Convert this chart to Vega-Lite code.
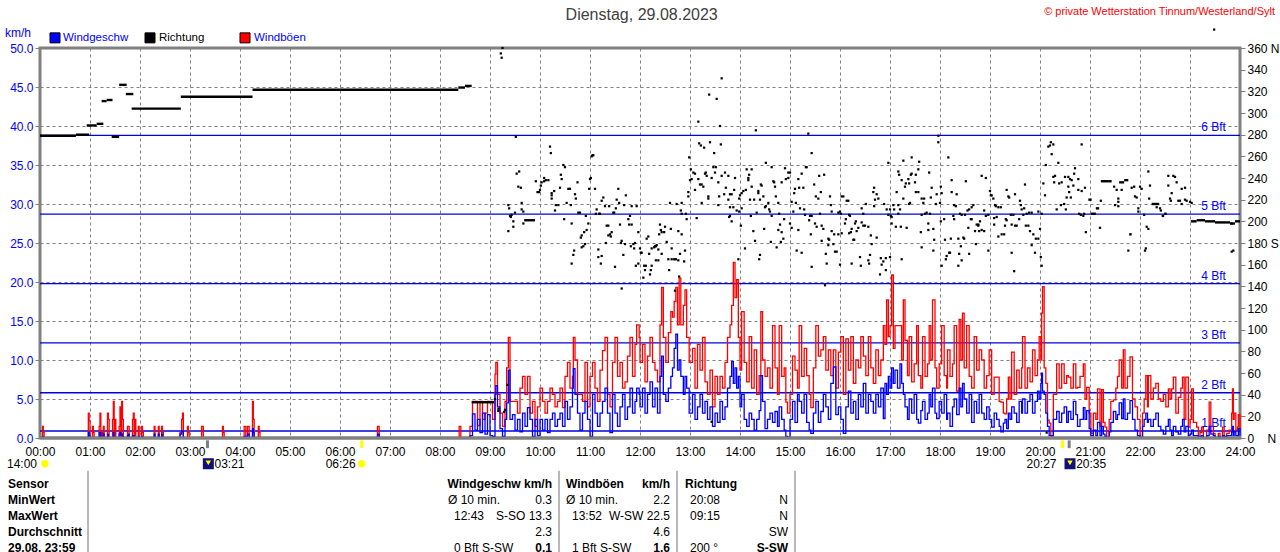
{
"$schema":"https://vega.github.io/schema/vega-lite/v6.json",
"autosize":{"type":"none"},
"padding":{"left":40,"top":48,"right":40,"bottom":114},
"width":1200,"height":390,
"background":"white",
"config":{"view":{"stroke":"#808080","strokeWidth":3},"font":"Liberation Sans","text":{"font":"Liberation Sans","fontSize":12}},
"datasets":{
"wind":[
{"min":0,"w":0,"g":0},{"min":3,"w":0.2,"g":1.5},{"min":4,"w":0,"g":0.7},{"min":5,"w":0,"g":0},{"min":58,"w":0.7,"g":3.2},{"min":59,"w":0.3,"g":2.2},{"min":60,"w":0,"g":0},{"min":63,"w":0,"g":1.5},{"min":64,"w":0,"g":0.7},{"min":65,"w":0,"g":0},{"min":71,"w":0.7,"g":1.5},{"min":72,"w":0.7,"g":3.2},{"min":73,"w":0,"g":0},{"min":74,"w":0,"g":0.7},{"min":75,"w":0,"g":0},{"min":76,"w":0.5,"g":1.5},{"min":77,"w":0,"g":0},{"min":81,"w":0.5,"g":3.2},{"min":82,"w":0,"g":2.4},{"min":83,"w":0,"g":0},{"min":87,"w":0,"g":2.4},{"min":88,"w":0.7,"g":4.7},{"min":89,"w":0,"g":0},{"min":90,"w":0,"g":2.4},{"min":91,"w":0,"g":0},{"min":95,"w":0.5,"g":1.5},{"min":96,"w":0.7,"g":4},{"min":97,"w":0.3,"g":0},{"min":98,"w":0.5,"g":4.7},{"min":99,"w":0.2,"g":2.4},{"min":100,"w":0,"g":0},{"min":105,"w":0.3,"g":1.5},{"min":106,"w":0.5,"g":1.5},{"min":107,"w":0,"g":0},{"min":111,"w":0.3,"g":2.4},{"min":112,"w":0.3,"g":3.2},{"min":113,"w":0,"g":0},{"min":114,"w":0,"g":2.4},{"min":115,"w":0,"g":0},{"min":118,"w":0.2,"g":1.5},{"min":119,"w":0,"g":0},{"min":122,"w":0.2,"g":1.5},{"min":123,"w":0,"g":0.7},{"min":124,"w":0,"g":0},{"min":137,"w":0.5,"g":1.5},{"min":138,"w":0,"g":0},{"min":142,"w":0.5,"g":1.5},{"min":143,"w":0,"g":0},{"min":146,"w":0.5,"g":1.5},{"min":147,"w":0,"g":0.7},{"min":148,"w":0,"g":0},{"min":168,"w":0.5,"g":0.7},{"min":170,"w":0.9,"g":2.4},{"min":171,"w":0.9,"g":3.2},{"min":172,"w":0,"g":0},{"min":177,"w":0,"g":1.5},{"min":178,"w":0,"g":0.7},{"min":179,"w":0,"g":0},{"min":194,"w":0,"g":1.5},{"min":196,"w":0,"g":0},{"min":219,"w":0,"g":1.5},{"min":220,"w":0,"g":0.7},{"min":221,"w":0,"g":0},{"min":245,"w":0.2,"g":1.5},{"min":246,"w":0.2,"g":1.5},{"min":247,"w":0,"g":0},{"min":249,"w":0.5,"g":1.5},{"min":250,"w":0.5,"g":1.5},{"min":251,"w":0,"g":0},{"min":255,"w":1.2,"g":4.7},{"min":256,"w":0.7,"g":2.4},{"min":257,"w":0,"g":0},{"min":262,"w":0,"g":1.5},{"min":263,"w":0,"g":0.7},{"min":264,"w":0,"g":0},{"min":405,"w":0.5,"g":1.5},{"min":407,"w":0,"g":0},{"min":503,"w":0,"g":1.5},{"min":505,"w":0,"g":0},{"min":514,"w":0,"g":0},
{"min":516,"w":0.3,"g":1.5},{"min":519,"w":3.1,"g":4.7},{"min":522,"w":1.0,"g":4.7},{"min":525,"w":2.4,"g":1.6},{"min":528,"w":0.7,"g":4.7},{"min":531,"w":3.2,"g":2.4},{"min":534,"w":0.5,"g":3.2},{"min":537,"w":3.0,"g":4.7},{"min":540,"w":0.3,"g":4.7},{"min":543,"w":0.2,"g":2.4},{"min":546,"w":5.6,"g":8.2},{"min":547,"w":6.7,"g":9.7},{"min":549,"w":4.0,"g":5.6},{"min":552,"w":1.2,"g":3.2},{"min":555,"w":0.2,"g":1.5},{"min":558,"w":2.4,"g":4.7},{"min":560,"w":4.5,"g":9.0},{"min":562,"w":8.7,"g":12.9},{"min":564,"w":2.4,"g":4.7},{"min":567,"w":3.0,"g":4.7},{"min":570,"w":1.0,"g":4.7},{"min":573,"w":2.4,"g":3.2},{"min":576,"w":0.8,"g":6.4},{"min":579,"w":3.2,"g":7.9},{"min":582,"w":1.5,"g":5.6},{"min":585,"w":3.9,"g":7.9},{"min":588,"w":2.4,"g":3.2},{"min":591,"w":0.2,"g":4.7},{"min":594,"w":2.4,"g":1.5},{"min":597,"w":0.3,"g":4.0},{"min":600,"w":2.4,"g":6.4},{"min":603,"w":1.0,"g":4.7},{"min":606,"w":2.4,"g":3.2},{"min":609,"w":0.7,"g":4.7},{"min":612,"w":2.4,"g":6.4},{"min":615,"w":3.2,"g":5.6},{"min":618,"w":1.5,"g":4.0},{"min":621,"w":2.4,"g":4.7},{"min":624,"w":3.2,"g":6.4},{"min":627,"w":1.5,"g":3.9},{"min":630,"w":4.7,"g":7.9},{"min":633,"w":2.4,"g":9.7},{"min":636,"w":4.0,"g":6.4},{"min":639,"w":6.4,"g":7.9},{"min":640,"w":8.9,"g":12.9},{"min":642,"w":5.6,"g":10.0},{"min":645,"w":3.2,"g":5.6},{"min":648,"w":1.0,"g":5.6},{"min":651,"w":3.2,"g":4.7},{"min":654,"w":4.7,"g":9.7},{"min":657,"w":2.4,"g":4.0},{"min":660,"w":0.2,"g":7.9},{"min":663,"w":5.6,"g":9.7},{"min":666,"w":3.2,"g":6.4},{"min":669,"w":1.5,"g":4.7},{"min":672,"w":3.2,"g":8.7},{"min":675,"w":4.7,"g":11.2},{"min":678,"w":6.4,"g":12.9},{"min":681,"w":3.2,"g":5.6},{"min":684,"w":0.7,"g":4.0},{"min":687,"w":5.6,"g":9.7},{"min":690,"w":3.2,"g":12.9},{"min":693,"w":1.5,"g":7.9},{"min":696,"w":4.0,"g":9.7},{"min":699,"w":5.6,"g":6.4},{"min":702,"w":2.4,"g":7.2},{"min":705,"w":4.0,"g":10.5},{"min":708,"w":6.4,"g":12.9},{"min":711,"w":3.2,"g":7.9},{"min":714,"w":4.7,"g":12.0},{"min":716,"w":6.4,"g":14.5},{"min":719,"w":5.6,"g":12.9},
{"min":720,"w":4.0,"g":9.7},{"min":723,"w":6.4,"g":12.0},{"min":726,"w":3.2,"g":7.2},{"min":729,"w":5.6,"g":10.5},{"min":732,"w":7.2,"g":12.9},{"min":735,"w":4.0,"g":9.7},{"min":738,"w":6.4,"g":8.7},{"min":741,"w":3.2,"g":7.2},{"min":744,"w":7.9,"g":14.5},{"min":746,"w":10.5,"g":19.3},{"min":748,"w":5.6,"g":12.9},{"min":751,"w":4.7,"g":9.7},{"min":754,"w":6.4,"g":13.5},{"min":757,"w":7.9,"g":16.2},{"min":759,"w":9.0,"g":15.5},{"min":761,"w":11.5,"g":17.5},{"min":763,"w":13.3,"g":19.3},{"min":765,"w":8.7,"g":14.5},{"min":767,"w":10.0,"g":20.5},{"min":769,"w":7.9,"g":14.5},{"min":772,"w":5.6,"g":17.0},{"min":774,"w":7.9,"g":19.0},{"min":776,"w":6.4,"g":12.9},{"min":779,"w":3.2,"g":9.7},
{"min":780,"w":3.2,"g":9.7},{"min":783,"w":5.6,"g":11.5},{"min":786,"w":2.4,"g":6.4},{"min":789,"w":4.0,"g":12.0},{"min":792,"w":5.6,"g":8.7},{"min":795,"w":3.2,"g":12.9},{"min":798,"w":4.7,"g":7.2},{"min":801,"w":2.4,"g":5.6},{"min":804,"w":4.0,"g":8.7},{"min":807,"w":1.5,"g":4.0},{"min":810,"w":3.2,"g":7.9},{"min":813,"w":2.0,"g":5.6},{"min":816,"w":4.7,"g":7.9},{"min":819,"w":2.4,"g":6.4},{"min":822,"w":4.0,"g":9.7},{"min":825,"w":6.4,"g":12.9},{"min":828,"w":7.9,"g":14.5},{"min":830,"w":9.8,"g":17.0},{"min":832,"w":7.0,"g":22.5},{"min":834,"w":9.0,"g":18.0},{"min":836,"w":6.4,"g":20.3},{"min":838,"w":7.9,"g":12.9},{"min":840,"w":4.0,"g":8.7},{"min":842,"w":5.6,"g":16.2},{"min":845,"w":2.4,"g":9.7},{"min":848,"w":1.5,"g":7.2},{"min":851,"w":3.2,"g":13.0},{"min":854,"w":2.4,"g":6.4},{"min":857,"w":1.0,"g":11.3},{"min":860,"w":2.4,"g":5.6},{"min":863,"w":3.5,"g":8.0},{"min":865,"w":8.0,"g":16.2},{"min":867,"w":4.7,"g":10.0},{"min":870,"w":1.2,"g":7.9},{"min":873,"w":2.4,"g":9.0},{"min":876,"w":3.2,"g":6.4},{"min":879,"w":2.0,"g":14.4},{"min":882,"w":3.4,"g":9.0},{"min":885,"w":1.5,"g":5.6},{"min":887,"w":4.0,"g":14.4},{"min":890,"w":2.4,"g":7.9},{"min":893,"w":1.0,"g":9.0},{"min":895,"w":0.2,"g":4.6},{"min":897,"w":0.1,"g":3.2},{"min":900,"w":2.4,"g":5.6},{"min":903,"w":4.7,"g":10.5},{"min":906,"w":2.0,"g":8.7},{"min":909,"w":5.6,"g":6.4},{"min":911,"w":4.7,"g":14.4},{"min":914,"w":3.2,"g":7.9},{"min":917,"w":5.6,"g":11.5},{"min":920,"w":2.0,"g":8.0},{"min":923,"w":1.0,"g":5.6},{"min":925,"w":0.6,"g":3.9},{"min":928,"w":3.2,"g":9.0},{"min":931,"w":4.7,"g":14.4},{"min":934,"w":2.0,"g":10.5},{"min":937,"w":3.4,"g":11.3},{"min":940,"w":5.6,"g":13.0},{"min":943,"w":4.0,"g":8.7},{"min":946,"w":2.4,"g":11.3},{"min":949,"w":7.0,"g":8.0},{"min":952,"w":9.1,"g":11.3},{"min":955,"w":3.0,"g":6.4},{"min":958,"w":4.0,"g":11.0},{"min":961,"w":2.4,"g":13.0},{"min":964,"w":0.6,"g":5.6},{"min":967,"w":4.0,"g":12.7},{"min":970,"w":6.0,"g":8.7},{"min":973,"w":3.2,"g":13.0},{"min":976,"w":4.7,"g":7.0},{"min":979,"w":2.4,"g":10.0},{"min":982,"w":5.6,"g":9.0},{"min":985,"w":4.0,"g":13.0},{"min":988,"w":7.0,"g":10.5},{"min":991,"w":3.2,"g":8.0},{"min":994,"w":5.6,"g":13.0},{"min":997,"w":4.7,"g":9.0},{"min":1000,"w":3.2,"g":7.0},{"min":1003,"w":5.6,"g":11.3},{"min":1006,"w":4.0,"g":8.0},{"min":1009,"w":6.4,"g":10.0},{"min":1012,"w":2.5,"g":14.4},{"min":1014,"w":7.0,"g":12.0},{"min":1016,"w":5.6,"g":17.7},{"min":1018,"w":7.9,"g":13.0},{"min":1020,"w":6.4,"g":14.4},{"min":1022,"w":9.0,"g":20.9},{"min":1024,"w":7.0,"g":11.5},{"min":1026,"w":8.7,"g":14.4},{"min":1029,"w":6.4,"g":14.4},{"min":1032,"w":9.5,"g":14.4},{"min":1034,"w":7,"g":10.0},{"min":1036,"w":5.6,"g":17.7},{"min":1038,"w":4,"g":12.5},{"min":1041,"w":2.4,"g":8},{"min":1043,"w":5,"g":13},{"min":1046,"w":3.2,"g":7.2},{"min":1049,"w":5.6,"g":9.5},{"min":1052,"w":2.4,"g":14.4},{"min":1054,"w":1.9,"g":8},{"min":1057,"w":3.5,"g":6.4},{"min":1059,"w":4.7,"g":13},{"min":1062,"w":2.4,"g":7.9},{"min":1065,"w":3.2,"g":9.5},{"min":1067,"w":5.6,"g":14.4},{"min":1069,"w":4,"g":10},{"min":1071,"w":6.4,"g":17.7},{"min":1074,"w":3.2,"g":9},{"min":1076,"w":2.5,"g":6.4},{"min":1079,"w":4.7,"g":9.5},{"min":1082,"w":3.2,"g":14.4},{"min":1085,"w":5.6,"g":8},{"min":1088,"w":2.4,"g":6.4},{"min":1089,"w":3.2,"g":11.3},{"min":1092,"w":1.5,"g":7.9},{"min":1095,"w":4,"g":9.5},{"min":1097,"w":5,"g":14.4},{"min":1100,"w":3,"g":6},{"min":1103,"w":6.4,"g":15.2},{"min":1105,"w":4,"g":10},{"min":1107,"w":7,"g":16},{"min":1109,"w":5,"g":9},{"min":1112,"w":3.2,"g":14.4},{"min":1115,"w":5.6,"g":7.9},{"min":1118,"w":2,"g":6.4},{"min":1121,"w":4.7,"g":13},{"min":1124,"w":3.2,"g":8.7},{"min":1127,"w":5.6,"g":11.3},{"min":1130,"w":3.2,"g":10},{"min":1133,"w":2.4,"g":6.4},{"min":1136,"w":4,"g":8},{"min":1139,"w":2.4,"g":11.3},{"min":1142,"w":1.4,"g":5.6},{"min":1145,"w":3.2,"g":7.8},{"min":1148,"w":2.4,"g":7.8},{"min":1151,"w":1.5,"g":4.7},{"min":1153,"w":0.8,"g":4.6},{"min":1156,"w":1.9,"g":3.2},{"min":1158,"w":2.4,"g":3.1},{"min":1160,"w":1.2,"g":5},{"min":1162,"w":3.2,"g":7.8},{"min":1164,"w":2.4,"g":5},{"min":1166,"w":4,"g":11},{"min":1169,"w":3.2,"g":5.6},{"min":1172,"w":2,"g":8.7},{"min":1175,"w":4.7,"g":6.4},{"min":1178,"w":3.2,"g":9},{"min":1179,"w":5,"g":13},{"min":1182,"w":3.2,"g":6.4},{"min":1185,"w":4.7,"g":9},{"min":1188,"w":5.6,"g":7.2},{"min":1191,"w":3.2,"g":11.3},{"min":1194,"w":4.7,"g":8},{"min":1197,"w":6,"g":10},{"min":1199,"w":5,"g":13},{"min":1201,"w":7,"g":10},{"min":1202,"w":8.3,"g":16},{"min":1203,"w":6,"g":19.4},{"min":1205,"w":5.6,"g":9},{"min":1207,"w":3.2,"g":7},{"min":1209,"w":1.5,"g":2.3},{"min":1211,"w":0.3,"g":1.9},{"min":1213,"w":0.3,"g":0.3},{"min":1216,"w":2.4,"g":5.6},{"min":1220,"w":3.4,"g":9.5},{"min":1223,"w":2,"g":6.4},{"min":1226,"w":3.2,"g":9.5},{"min":1229,"w":4,"g":7},{"min":1232,"w":2,"g":8},{"min":1234,"w":3.4,"g":7.8},{"min":1237,"w":2.4,"g":6.4},{"min":1240,"w":4.7,"g":9.5},{"min":1243,"w":3,"g":6.4},{"min":1245,"w":1.5,"g":6.5},{"min":1248,"w":2.4,"g":7.9},{"min":1252,"w":3.9,"g":9.5},{"min":1254,"w":2.4,"g":5},{"min":1256,"w":3.5,"g":6.5},{"min":1259,"w":1.2,"g":3.2},{"min":1261,"w":0.3,"g":0.6},{"min":1264,"w":1,"g":3.2},{"min":1267,"w":0.3,"g":2.4},{"min":1269,"w":2,"g":6.3},{"min":1272,"w":0.3,"g":1.5},{"min":1274,"w":1.5,"g":6.2},{"min":1276,"w":0.5,"g":2},{"min":1278,"w":0.2,"g":1.4},{"min":1280,"w":0,"g":0.1},{"min":1283,"w":0.8,"g":2.4},{"min":1285,"w":2,"g":4.7},{"min":1288,"w":3.4,"g":4.9},{"min":1291,"w":2.4,"g":6.4},{"min":1293,"w":3,"g":7.9},{"min":1295,"w":4.5,"g":10},{"min":1298,"w":2.5,"g":6.4},{"min":1300,"w":5,"g":11.3},{"min":1302,"w":2.4,"g":6.4},{"min":1305,"w":3.2,"g":7.9},{"min":1308,"w":4.8,"g":10.4},{"min":1311,"w":2.4,"g":5},{"min":1314,"w":1,"g":4},{"min":1317,"w":0.3,"g":2.4},{"min":1320,"w":0,"g":0.1},{"min":1323,"w":1.5,"g":3.2},{"min":1325,"w":2.4,"g":5},{"min":1327,"w":3.2,"g":8},{"min":1329,"w":2,"g":4},{"min":1330,"w":2.4,"g":8},{"min":1333,"w":1.5,"g":5},{"min":1336,"w":2.4,"g":6.4},{"min":1339,"w":3.2,"g":7},{"min":1342,"w":1.5,"g":5},{"min":1345,"w":1,"g":4.7},{"min":1348,"w":0.5,"g":5.6},{"min":1351,"w":1.5,"g":4},{"min":1354,"w":2.4,"g":6.3},{"min":1356,"w":1,"g":5},{"min":1358,"w":0.3,"g":6.3},{"min":1360,"w":1.5,"g":7.8},{"min":1363,"w":0.8,"g":3.2},{"min":1366,"w":0.5,"g":5.2},{"min":1369,"w":1.5,"g":6.4},{"min":1371,"w":2.4,"g":7.8},{"min":1373,"w":0.8,"g":2.4},{"min":1375,"w":1.5,"g":7.8},{"min":1378,"w":0.3,"g":1.4},{"min":1380,"w":0.5,"g":2.4},{"min":1382,"w":1,"g":6.3},{"min":1384,"w":0.3,"g":2},{"min":1388,"w":0.3,"g":1.4},{"min":1390,"w":0,"g":0},{"min":1392,"w":0.2,"g":0.7},{"min":1394,"w":0.3,"g":1.4},{"min":1396,"w":0,"g":0},{"min":1400,"w":0.3,"g":1},{"min":1403,"w":1.5,"g":4.6},{"min":1405,"w":0.5,"g":1.5},{"min":1408,"w":0.3,"g":0.6},{"min":1410,"w":0,"g":0},{"min":1414,"w":0.2,"g":0.6},{"min":1416,"w":0,"g":0},{"min":1419,"w":0.3,"g":1.4},{"min":1421,"w":0.2,"g":0},{"min":1424,"w":0.3,"g":0.6},{"min":1427,"w":0.3,"g":1},{"min":1430,"w":0.8,"g":3.2},{"min":1431,"w":1.5,"g":6.3},{"min":1432,"w":0.3,"g":2.4},{"min":1433,"w":0.8,"g":3.2},{"min":1435,"w":0.3,"g":1},{"min":1437,"w":0.3,"g":1.4},{"min":1438,"w":1.2,"g":3},{"min":1440,"w":0.3,"g":1}
],
"segments":[
{"from":0,"to":43,"dir":279},{"from":43,"to":59,"dir":280},{"from":56,"to":68,"dir":288.5},{"from":68,"to":76,"dir":290},{"from":74,"to":80,"dir":311},{"from":80,"to":87,"dir":312},{"from":86,"to":95,"dir":278},{"from":95,"to":104,"dir":326},{"from":103,"to":112,"dir":317.5},{"from":110,"to":169,"dir":304},{"from":169,"to":255,"dir":315},{"from":255,"to":502,"dir":321.5},{"from":502,"to":510,"dir":323.5},{"from":510,"to":518,"dir":325},{"from":518,"to":545,"dir":33},{"from":581,"to":594,"dir":201},{"from":1258,"to":1262,"dir":220},{"from":1261,"to":1267,"dir":207},{"from":1267,"to":1271,"dir":212},{"from":1273,"to":1286,"dir":237},{"from":1295,"to":1301,"dir":236},{"from":1301,"to":1306,"dir":238},{"from":1307,"to":1310,"dir":188},{"from":1334,"to":1343,"dir":216},{"from":1346,"to":1349,"dir":205},{"from":1349,"to":1352,"dir":207},{"from":1381,"to":1388,"dir":200},{"from":1388,"to":1398,"dir":201},{"from":1398,"to":1410,"dir":200},{"from":1410,"to":1428,"dir":199},{"from":1428,"to":1434,"dir":198},{"from":1434,"to":1440,"dir":200}
],
"direction":[
{"min":555,"dir":360},{"min":553,"dir":355},{"min":554,"dir":351},{"min":571,"dir":278},{"min":562,"dir":215},{"min":563,"dir":212},{"min":564,"dir":205},{"min":566,"dir":206},{"min":565,"dir":204},{"min":570,"dir":208},{"min":568,"dir":200},{"min":568,"dir":195},{"min":562,"dir":191},{"min":572,"dir":244},{"min":575,"dir":246},{"min":574,"dir":232},{"min":577,"dir":231},{"min":578,"dir":217},{"min":578,"dir":211},{"min":580,"dir":209},{"min":580,"dir":198},{"min":595,"dir":237},{"min":597,"dir":227},{"min":599,"dir":227},{"min":600,"dir":229},{"min":601,"dir":233},{"min":602,"dir":236},{"min":605,"dir":237},{"min":605,"dir":240},{"min":607,"dir":238},{"min":610,"dir":238},{"min":612,"dir":269},{"min":613,"dir":263},{"min":614,"dir":226},{"min":617,"dir":228},{"min":614,"dir":224},{"min":614,"dir":221},{"min":619,"dir":215},{"min":622,"dir":215},{"min":618,"dir":210},{"min":624,"dir":231},{"min":625,"dir":243},{"min":626,"dir":239},{"min":628,"dir":252},{"min":630,"dir":250},{"min":629,"dir":202},{"min":632,"dir":217},{"min":634,"dir":230},{"min":636,"dir":230},{"min":637,"dir":215},{"min":638,"dir":198},{"min":638,"dir":161},{"min":640,"dir":169},{"min":641,"dir":173},{"min":642,"dir":225},{"min":643,"dir":221},{"min":645,"dir":236},{"min":646,"dir":208},{"min":648,"dir":208},{"min":649,"dir":185},{"min":650,"dir":187},{"min":650,"dir":176},{"min":652,"dir":177},{"min":653,"dir":190},{"min":654,"dir":179},{"min":656,"dir":192},{"min":655,"dir":205},{"min":658,"dir":198},{"min":659,"dir":230},{"min":660,"dir":239},{"min":661,"dir":240},{"min":662,"dir":260},{"min":663,"dir":261},{"min":664,"dir":261},{"min":666,"dir":230},{"min":667,"dir":207},{"min":670,"dir":174},{"min":670,"dir":167},{"min":671,"dir":207},{"min":672,"dir":207},{"min":668,"dir":211},{"min":673,"dir":161},{"min":674,"dir":168},{"min":674,"dir":219},{"min":676,"dir":222},{"min":678,"dir":214},{"min":683,"dir":214},{"min":680,"dir":196},{"min":682,"dir":196},{"min":682,"dir":187},{"min":684,"dir":188},{"min":686,"dir":190},{"min":685,"dir":186},{"min":679,"dir":180},{"min":688,"dir":208},{"min":689,"dir":208},{"min":690,"dir":158},{"min":691,"dir":212},{"min":692,"dir":220},{"min":695,"dir":217},{"min":694,"dir":230},{"min":696,"dir":197},{"min":697,"dir":180},{"min":698,"dir":182},{"min":700,"dir":169},{"min":702,"dir":179},{"min":701,"dir":215},{"min":703,"dir":224},{"min":706,"dir":202},{"min":707,"dir":197},{"min":708,"dir":205},{"min":710,"dir":197},{"min":709,"dir":177},{"min":712,"dir":179},{"min":714,"dir":180},{"min":713,"dir":175},{"min":710,"dir":214},{"min":716,"dir":214},{"min":718,"dir":190},{"min":715,"dir":159},{"min":718,"dir":161},{"min":720,"dir":175},{"min":721,"dir":171},{"min":722,"dir":171},{"min":724,"dir":148},{"min":725,"dir":159},{"min":727,"dir":159},{"min":726,"dir":155},{"min":728,"dir":184},{"min":730,"dir":186},{"min":731,"dir":170},{"min":732,"dir":151},{"min":733,"dir":155},{"min":734,"dir":159},{"min":734,"dir":175},{"min":737,"dir":176},{"min":738,"dir":177},{"min":739,"dir":177},{"min":740,"dir":178},{"min":742,"dir":174},{"min":739,"dir":164},{"min":742,"dir":164},{"min":743,"dir":188},{"min":744,"dir":197},{"min":746,"dir":190},{"min":745,"dir":192},{"min":749,"dir":190},{"min":750,"dir":195},{"min":746,"dir":170},{"min":752,"dir":181},{"min":755,"dir":155},{"min":754,"dir":165},{"min":756,"dir":217},{"min":757,"dir":193},{"min":758,"dir":175},{"min":758,"dir":165},{"min":761,"dir":165},{"min":763,"dir":165},{"min":766,"dir":164},{"min":768,"dir":170},{"min":773,"dir":163},{"min":774,"dir":173},{"min":766,"dir":191},{"min":770,"dir":188},{"min":764,"dir":216},{"min":770,"dir":217},{"min":769,"dir":210},{"min":770,"dir":207},{"min":775,"dir":207},{"min":767,"dir":149},{"min":776,"dir":202},{"min":778,"dir":223},{"min":778,"dir":227},{"min":779,"dir":259},{"min":780,"dir":238},{"min":782,"dir":239},{"min":781,"dir":248},{"min":784,"dir":245},{"min":786,"dir":244},{"min":786,"dir":229},{"min":788,"dir":203},{"min":794,"dir":217},{"min":790,"dir":292},{"min":791,"dir":272},{"min":793,"dir":270},{"min":797,"dir":268},{"min":790,"dir":239},{"min":792,"dir":234},{"min":794,"dir":234},{"min":798,"dir":244},{"min":799,"dir":245},{"min":800,"dir":242},{"min":796,"dir":232},{"min":802,"dir":223},{"min":802,"dir":221},{"min":803,"dir":317},{"min":812,"dir":313},{"min":818,"dir":332},{"min":804,"dir":273},{"min":817,"dir":271},{"min":809,"dir":263},{"min":808,"dir":250},{"min":811,"dir":250},{"min":810,"dir":245},{"min":806,"dir":240},{"min":814,"dir":236},{"min":815,"dir":223},{"min":814,"dir":215},{"min":816,"dir":288},{"min":818,"dir":242},{"min":822,"dir":245},{"min":826,"dir":242},{"min":823,"dir":231},{"min":821,"dir":225},{"min":828,"dir":225},{"min":826,"dir":220},{"min":828,"dir":213},{"min":834,"dir":240},{"min":833,"dir":229},{"min":830,"dir":225},{"min":840,"dir":224},{"min":839,"dir":221},{"min":832,"dir":213},{"min":836,"dir":210},{"min":839,"dir":209},{"min":842,"dir":212},{"min":827,"dir":204},{"min":828,"dir":205},{"min":830,"dir":200},{"min":841,"dir":196},{"min":838,"dir":165},{"min":846,"dir":175},{"min":859,"dir":284},{"min":844,"dir":228},{"min":847,"dir":229},{"min":842,"dir":226},{"min":852,"dir":220},{"min":857,"dir":220},{"min":848,"dir":248},{"min":854,"dir":248},{"min":851,"dir":243},{"min":850,"dir":240},{"min":850,"dir":238},{"min":854,"dir":232},{"min":862,"dir":228},{"min":862,"dir":226},{"min":865,"dir":234},{"min":866,"dir":233},{"min":868,"dir":223},{"min":853,"dir":205},{"min":860,"dir":208},{"min":869,"dir":193},{"min":856,"dir":191},{"min":858,"dir":182},{"min":864,"dir":169},{"min":863,"dir":165},{"min":864,"dir":220},{"min":871,"dir":254},{"min":878,"dir":250},{"min":880,"dir":237},{"min":881,"dir":236},{"min":882,"dir":232},{"min":883,"dir":223},{"min":874,"dir":217},{"min":871,"dir":214},{"min":870,"dir":213},{"min":886,"dir":217},{"min":875,"dir":211},{"min":876,"dir":209},{"min":878,"dir":205},{"min":887,"dir":207},{"min":877,"dir":181},{"min":884,"dir":176},{"min":889,"dir":181},{"min":892,"dir":184},{"min":886,"dir":192},{"min":890,"dir":190},{"min":888,"dir":197},{"min":893,"dir":202},{"min":890,"dir":236},{"min":894,"dir":249},{"min":895,"dir":239},{"min":898,"dir":240},{"min":898,"dir":245},{"min":900,"dir":245},{"min":902,"dir":218},{"min":907,"dir":217},{"min":900,"dir":198},{"min":902,"dir":194},{"min":910,"dir":192},{"min":904,"dir":209},{"min":912,"dir":212},{"min":917,"dir":211},{"min":918,"dir":206},{"min":905,"dir":226},{"min":906,"dir":230},{"min":911,"dir":231},{"min":916,"dir":231},{"min":910,"dir":239},{"min":914,"dir":244},{"min":919,"dir":250},{"min":920,"dir":250},{"min":922,"dir":281},{"min":926,"dir":263},{"min":929,"dir":234},{"min":924,"dir":205},{"min":926,"dir":205},{"min":923,"dir":201},{"min":930,"dir":198},{"min":925,"dir":188},{"min":932,"dir":195},{"min":936,"dir":207},{"min":908,"dir":173},{"min":914,"dir":171},{"min":926,"dir":158},{"min":938,"dir":182},{"min":938,"dir":196},{"min":940,"dir":193},{"min":935,"dir":242},{"min":941,"dir":243},{"min":937,"dir":227},{"min":934,"dir":221},{"min":931,"dir":223},{"min":946,"dir":184},{"min":947,"dir":183},{"min":943,"dir":170},{"min":944,"dir":161},{"min":942,"dir":141},{"min":946,"dir":178},{"min":952,"dir":179},{"min":948,"dir":223},{"min":949,"dir":215},{"min":950,"dir":209},{"min":950,"dir":191},{"min":953,"dir":188},{"min":958,"dir":188},{"min":954,"dir":172},{"min":956,"dir":172},{"min":958,"dir":208},{"min":960,"dir":209},{"min":961,"dir":207},{"min":962,"dir":223},{"min":964,"dir":223},{"min":960,"dir":160},{"min":962,"dir":189},{"min":966,"dir":198},{"min":967,"dir":202},{"min":971,"dir":206},{"min":972,"dir":205},{"min":968,"dir":219},{"min":970,"dir":219},{"min":974,"dir":161},{"min":984,"dir":167},{"min":985,"dir":159},{"min":971,"dir":189},{"min":973,"dir":190},{"min":974,"dir":193},{"min":976,"dir":183},{"min":977,"dir":183},{"min":978,"dir":198},{"min":979,"dir":200},{"min":980,"dir":191},{"min":982,"dir":194},{"min":986,"dir":212},{"min":988,"dir":207},{"min":991,"dir":216},{"min":986,"dir":199},{"min":988,"dir":196},{"min":990,"dir":196},{"min":994,"dir":195},{"min":997,"dir":187},{"min":998,"dir":179},{"min":1004,"dir":185},{"min":1008,"dir":151},{"min":994,"dir":164},{"min":996,"dir":169},{"min":995,"dir":161},{"min":1001,"dir":231},{"min":1000,"dir":227},{"min":1004,"dir":225},{"min":1006,"dir":221},{"min":1002,"dir":220},{"min":1001,"dir":214},
{"min":1018,"dir":254},{"min":1016,"dir":211},{"min":1018,"dir":206},{"min":1021,"dir":205},{"min":1022,"dir":204},{"min":1009,"dir":166},{"min":1015,"dir":166},{"min":1012,"dir":163},{"min":1010,"dir":160},{"min":1015,"dir":155},{"min":1020,"dir":167},{"min":1013,"dir":216},{"min":1020,"dir":211},{"min":1024,"dir":215},{"min":1025,"dir":211},{"min":1030,"dir":215},{"min":1032,"dir":211},{"min":1030,"dir":207},{"min":1022,"dir":198},{"min":1027,"dir":195},{"min":1033,"dir":195},{"min":1040,"dir":194},{"min":1034,"dir":165},{"min":1030,"dir":246},{"min":1031,"dir":243},{"min":1036,"dir":256},{"min":1034,"dir":238},{"min":1039,"dir":235},{"min":1042,"dir":239},{"min":1045,"dir":243},{"min":1046,"dir":244},{"min":1046,"dir":259},{"min":1050,"dir":236},{"min":1043,"dir":235},{"min":1038,"dir":232},{"min":1036,"dir":221},{"min":1028,"dir":227},{"min":1055,"dir":255},{"min":1054,"dir":248},{"min":1051,"dir":243},{"min":1067,"dir":245},{"min":1078,"dir":279},{"min":1078,"dir":273},{"min":1090,"dir":259},{"min":1051,"dir":227},{"min":1054,"dir":227},{"min":1058,"dir":221},{"min":1061,"dir":221},{"min":1060,"dir":217},{"min":1043,"dir":216},{"min":1044,"dir":217},{"min":1069,"dir":222},{"min":1070,"dir":231},{"min":1076,"dir":225},{"min":1081,"dir":232},{"min":1082,"dir":226},{"min":1094,"dir":238},{"min":1094,"dir":227},{"min":1100,"dir":225},{"min":1075,"dir":216},{"min":1080,"dir":217},{"min":1097,"dir":215},{"min":1099,"dir":214},{"min":1058,"dir":206},{"min":1062,"dir":207},{"min":1064,"dir":208},{"min":1068,"dir":207},{"min":1057,"dir":190},{"min":1066,"dir":198},{"min":1066,"dir":192},{"min":1072,"dir":193},{"min":1073,"dir":183},{"min":1058,"dir":176},{"min":1072,"dir":173},{"min":1081,"dir":200},{"min":1082,"dir":159},{"min":1085,"dir":202},{"min":1086,"dir":183},{"min":1087,"dir":165},{"min":1088,"dir":168},{"min":1091,"dir":171},{"min":1092,"dir":171},{"min":1093,"dir":184},{"min":1096,"dir":205},{"min":1097,"dir":202},{"min":1102,"dir":184},{"min":1102,"dir":159},{"min":1104,"dir":207},{"min":1106,"dir":206},{"min":1103,"dir":170},{"min":1106,"dir":164},{"min":1105,"dir":177},{"min":1108,"dir":185},{"min":1109,"dir":184},{"min":1111,"dir":237},{"min":1110,"dir":206},{"min":1115,"dir":211},{"min":1113,"dir":210},{"min":1117,"dir":202},{"min":1118,"dir":202},{"min":1120,"dir":215},{"min":1118,"dir":213},{"min":1114,"dir":194},{"min":1115,"dir":170},{"min":1122,"dir":191},{"min":1123,"dir":179},{"min":1124,"dir":197},{"min":1126,"dir":197},{"min":1127,"dir":191},{"min":1126,"dir":196},{"min":1128,"dir":200},{"min":1130,"dir":192},{"min":1133,"dir":191},{"min":1130,"dir":242},{"min":1135,"dir":240},{"min":1133,"dir":210},{"min":1138,"dir":173},{"min":1135,"dir":205},{"min":1138,"dir":206},{"min":1140,"dir":228},{"min":1141,"dir":224},{"min":1142,"dir":224},{"min":1144,"dir":221},{"min":1145,"dir":203},{"min":1148,"dir":204},{"min":1146,"dir":215},{"min":1147,"dir":214},{"min":1150,"dir":213},{"min":1153,"dir":213},{"min":1145,"dir":197},{"min":1150,"dir":186},{"min":1154,"dir":188},{"min":1157,"dir":188},{"min":1158,"dir":196},{"min":1166,"dir":197},{"min":1166,"dir":171},{"min":1169,"dir":154},{"min":1160,"dir":229},{"min":1162,"dir":223},{"min":1163,"dir":222},{"min":1170,"dir":225},{"min":1159,"dir":202},{"min":1160,"dir":201},{"min":1165,"dir":206},{"min":1168,"dir":206},{"min":1170,"dir":196},{"min":1172,"dir":196},{"min":1175,"dir":202},{"min":1176,"dir":219},{"min":1177,"dir":215},{"min":1178,"dir":211},{"min":1181,"dir":212},{"min":1182,"dir":234},{"min":1180,"dir":206},{"min":1184,"dir":207},{"min":1187,"dir":208},{"min":1190,"dir":208},{"min":1186,"dir":196},{"min":1188,"dir":191},{"min":1192,"dir":188},{"min":1183,"dir":196},{"min":1190,"dir":178},{"min":1194,"dir":171},{"min":1195,"dir":184},{"min":1198,"dir":184},{"min":1198,"dir":209},{"min":1200,"dir":193},{"min":1201,"dir":167},{"min":1202,"dir":159},{"min":1202,"dir":207},{"min":1204,"dir":235},{"min":1206,"dir":224},{"min":1207,"dir":252},{"min":1210,"dir":269},{"min":1212,"dir":270},{"min":1213,"dir":273},{"min":1216,"dir":271},{"min":1214,"dir":262},{"min":1222,"dir":254},{"min":1216,"dir":241},{"min":1217,"dir":236},{"min":1218,"dir":242},{"min":1223,"dir":235},{"min":1226,"dir":236},{"min":1230,"dir":241},{"min":1234,"dir":241},{"min":1236,"dir":239},{"min":1238,"dir":238},{"min":1241,"dir":244},{"min":1242,"dir":249},{"min":1246,"dir":239},{"min":1240,"dir":233},{"min":1234,"dir":232},{"min":1235,"dir":227},{"min":1232,"dir":222},{"min":1237,"dir":222},{"min":1246,"dir":229},{"min":1250,"dir":228},{"min":1250,"dir":271},{"min":1254,"dir":231},{"min":1220,"dir":211},{"min":1225,"dir":215},{"min":1229,"dir":216},{"min":1231,"dir":211},{"min":1247,"dir":207},{"min":1249,"dir":206},{"min":1253,"dir":207},{"min":1252,"dir":205},{"min":1255,"dir":190},{"min":1273,"dir":219},{"min":1272,"dir":194},{"min":1289,"dir":232},{"min":1292,"dir":229},{"min":1298,"dir":229},{"min":1294,"dir":221},{"min":1294,"dir":218},{"min":1290,"dir":215},{"min":1294,"dir":214},{"min":1306,"dir":173},{"min":1310,"dir":231},{"min":1313,"dir":232},{"min":1320,"dir":232},{"min":1322,"dir":230},{"min":1314,"dir":223},{"min":1316,"dir":222},{"min":1318,"dir":212},{"min":1318,"dir":209},{"min":1325,"dir":206},{"min":1326,"dir":173},{"min":1327,"dir":175},{"min":1328,"dir":195},{"min":1330,"dir":193},{"min":1330,"dir":246},{"min":1332,"dir":233},{"min":1331,"dir":221},{"min":1340,"dir":213},{"min":1344,"dir":212},{"min":1345,"dir":210},{"min":1354,"dir":242},{"min":1354,"dir":233},{"min":1356,"dir":221},{"min":1357,"dir":219},{"min":1358,"dir":226},{"min":1360,"dir":242},{"min":1362,"dir":241},{"min":1364,"dir":236},{"min":1366,"dir":219},{"min":1368,"dir":219},{"min":1370,"dir":216},{"min":1374,"dir":220},{"min":1370,"dir":230},{"min":1374,"dir":231},{"min":1376,"dir":219},{"min":1380,"dir":218},{"min":1382,"dir":217},{"min":1430,"dir":172},{"min":1432,"dir":173},{"min":1430,"dir":198},{"min":550,"dir":27},{"min":550,"dir":25},{"min":557,"dir":24},{"min":558,"dir":26},{"min":561,"dir":49},{"min":546,"dir":36},{"min":698,"dir":138},{"min":762,"dir":136},{"min":806,"dir":15},{"min":1208,"dir":5},{"min":1409,"dir":377}
],
"bft":[{"kmh":0.9,"label":"1 Bft"},{"kmh":5.8,"label":"2 Bft"},{"kmh":12.2,"label":"3 Bft"},{"kmh":19.8,"label":"4 Bft"},{"kmh":28.7,"label":"5 Bft"},{"kmh":38.8,"label":"6 Bft"}],
"marks":[{"min":201,"kind":"moon"},{"min":386,"kind":"sun"},{"min":1227,"kind":"sun"},{"min":1235,"kind":"moon"}]
},
"resolve":{"scale":{"y":"independent"},"axis":{"y":"independent"}},
"layer":[
{"layer":[
{"data":{"name":"bft"},"mark":{"type":"rule","color":"#0000dd","strokeWidth":1.3},"encoding":{"y":{"field":"kmh","type":"quantitative","scale":{"domain":[0,50]},"title":null,"axis":{"values":[0,5,10,15,20,25,30,35,40,45,50],"tickCount":50,"format":".1f","labelColor":"#0000ff","labelFont":"Liberation Sans","labelFontSize":12,"labelPadding":2,"tickColor":"#808080","tickSize":5,"domain":false,"grid":true,"gridColor":"#808080","gridDash":[3,3],"gridWidth":1}}}},
{"data":{"name":"wind"},"mark":{"type":"line","color":"#ff0000","strokeWidth":1.3,"interpolate":"step-after"},"encoding":{"x":{"field":"min","type":"quantitative","scale":{"domain":[0,1440],"nice":false},"title":null,"axis":{"values":[0,60,120,180,240,300,360,420,480,540,600,660,720,780,840,900,960,1020,1080,1140,1200,1260,1320,1380,1440],"tickCount":50,"labelExpr":"(datum.value<600?'0':'')+(datum.value/60)+':00'","labelColor":"black","labelFont":"Liberation Sans","labelFontSize":12,"labelPadding":8,"labelOverlap":false,"labelFlush":false,"labelBound":false,"ticks":false,"domain":false,"grid":true,"gridColor":"#808080","gridDash":[3,3],"gridWidth":1}},"y":{"field":"g","type":"quantitative"}}},
{"data":{"name":"wind"},"mark":{"type":"line","color":"#0000ff","strokeWidth":1.3,"interpolate":"step-after"},"encoding":{"x":{"field":"min","type":"quantitative"},"y":{"field":"w","type":"quantitative"}}},
{"data":{"values":[{"kmh":0}]},"mark":{"type":"rule","color":"#808080","strokeWidth":3},"encoding":{"y":{"field":"kmh","type":"quantitative"}}},
{"data":{"name":"bft"},"mark":{"type":"text","align":"right","baseline":"middle","dy":-8,"color":"#0000ff","fontSize":12},"encoding":{"x":{"datum":1423},"y":{"field":"kmh","type":"quantitative"},"text":{"field":"label"}}},
{"data":{"name":"marks"},"mark":{"type":"rule","strokeWidth":3},"encoding":{"x":{"field":"min","type":"quantitative"},"y":{"datum":-0.3},"y2":{"datum":-1.3},"color":{"field":"kind","type":"nominal","scale":{"domain":["moon","sun"],"range":["#808080","#ffff00"]},"legend":null}}},
{"data":{"values":[{"label":"14:00"}]},"mark":{"type":"text","align":"right","baseline":"middle","color":"black","fontSize":12},"encoding":{"x":{"datum":-3.6},"y":{"datum":-3.3},"text":{"field":"label"}}},
{"data":{"values":[{"min":386,"label":"06:26"},{"min":1227,"label":"20:27"}]},"mark":{"type":"text","align":"right","baseline":"middle","dx":-6,"color":"black","fontSize":12},"encoding":{"x":{"field":"min","type":"quantitative"},"y":{"datum":-3.3},"text":{"field":"label"}}},
{"data":{"values":[{"min":201,"label":"03:21"},{"min":1235,"label":"20:35"}]},"mark":{"type":"text","align":"left","baseline":"middle","dx":7,"color":"black","fontSize":12},"encoding":{"x":{"field":"min","type":"quantitative"},"y":{"datum":-3.3},"text":{"field":"label"}}},
{"data":{"values":[{"min":202},{"min":1236}]},"mark":{"type":"square","color":"#10107a","size":121,"opacity":1},"encoding":{"x":{"field":"min","type":"quantitative"},"y":{"datum":-3.3}}},
{"data":{"values":[{"min":202},{"min":1236}]},"mark":{"type":"point","shape":"triangle-down","filled":true,"color":"#ffff00","size":30,"opacity":1},"encoding":{"x":{"field":"min","type":"quantitative"},"y":{"datum":-3.2}}},
{"data":{"values":[{"min":386},{"min":6}]},"mark":{"type":"circle","color":"#ffff00","size":55,"opacity":1},"encoding":{"x":{"field":"min","type":"quantitative"},"y":{"datum":-3.3}}},
{"data":{"values":[{"min":57.6},{"min":622.8},{"min":764.4},{"min":906}]},"mark":{"type":"rule","color":"#a0a0a0","strokeWidth":1.5},"encoding":{"x":{"field":"min","type":"quantitative"},"y":{"datum":-4.2},"y2":{"datum":-14.6}}},
{"data":{"values":[{"label":"km/h"}]},"mark":{"type":"text","align":"left","baseline":"middle","color":"#0000ff","fontSize":12},"encoding":{"x":{"datum":-42},"y":{"datum":51.9},"text":{"field":"label"}}},
{"data":{"values":[{"label":"Dienstag, 29.08.2023"}]},"mark":{"type":"text","align":"center","baseline":"middle","color":"#404040","fontSize":16},"encoding":{"x":{"datum":722},"y":{"datum":54.2},"text":{"field":"label"}}},
{"data":{"values":[{"label":"© private Wetterstation Tinnum/Westerland/Sylt"}]},"mark":{"type":"text","align":"right","baseline":"middle","color":"#ff0000","fontSize":11},"encoding":{"x":{"datum":1482},"y":{"datum":54.6},"text":{"field":"label"}}},
{"data":{"values":[{"min":18,"color":"#0000ff"},{"min":132,"color":"#000000"},{"min":246,"color":"#ff0000"}]},"mark":{"type":"square","size":100,"stroke":"black","strokeWidth":1,"opacity":1},"encoding":{"x":{"field":"min","type":"quantitative"},"y":{"datum":51.3},"fill":{"field":"color","type":"nominal","scale":null}}},
{"data":{"values":[{"min":27.6,"label":"Windgeschw"},{"min":256.8,"label":"Windböen"}]},"mark":{"type":"text","align":"left","baseline":"middle","color":"#0000ff","fontSize":11.5},"encoding":{"x":{"field":"min","type":"quantitative"},"y":{"datum":51.3},"text":{"field":"label"}}},
{"data":{"values":[{"min":142.8,"label":"Richtung"}]},"mark":{"type":"text","align":"left","baseline":"middle","color":"black","fontSize":11.5},"encoding":{"x":{"field":"min","type":"quantitative"},"y":{"datum":51.3},"text":{"field":"label"}}}
]},
{"layer":[
{"data":{"name":"segments"},"mark":{"type":"rule","color":"black","strokeWidth":2.4},"encoding":{"x":{"field":"from","type":"quantitative"},"x2":{"field":"to"},"y":{"field":"dir","type":"quantitative","scale":{"domain":[0,360]},"title":null,"axis":{"orient":"right","values":[0,20,40,60,80,100,120,140,160,180,200,220,240,260,280,300,320,340,360],"tickCount":50,"labelExpr":"datum.value==360?'360 N':datum.value==180?'180 S':datum.value==0?'0\u00a0\u00a0\u00a0\u00a0N':datum.value","labelColor":"black","labelFont":"Liberation Sans","labelFontSize":12,"labelPadding":2,"tickColor":"#808080","tickSize":5,"domain":false,"grid":false}}}},
{"data":{"name":"direction"},"mark":{"type":"square","color":"black","size":5,"opacity":1},"encoding":{"x":{"field":"min","type":"quantitative"},"y":{"field":"dir","type":"quantitative","scale":{"domain":[0,360]}}}}
]},
{"encoding":{"y":{"field":"row","type":"nominal","sort":null,"title":null,"scale":{"domain":["Sensor","MinWert","MaxWert","Durchschnitt","Jetzt"],"range":[436,500],"padding":0},"axis":null}},
"layer":[
{"data":{"values":[{"row":"Sensor","t":"Sensor"},{"row":"MinWert","t":"MinWert"},{"row":"MaxWert","t":"MaxWert"},{"row":"Durchschnitt","t":"Durchschnitt"},{"row":"Jetzt","t":"29.08. 23:59"}]},"mark":{"type":"text","align":"left","baseline":"middle","fontWeight":"bold","color":"black","fontSize":12},"encoding":{"x":{"datum":-38.4},"text":{"field":"t"}}},
{"data":{"values":[{"row":"MinWert","t":"Ø 10 min."}]},"mark":{"type":"text","align":"left","baseline":"middle","color":"black","fontSize":12},"encoding":{"x":{"datum":489.6},"text":{"field":"t"}}},
{"data":{"values":[{"row":"MaxWert","t":"12:43"},{"row":"Jetzt","t":"0 Bft S-SW"}]},"mark":{"type":"text","align":"left","baseline":"middle","color":"black","fontSize":12},"encoding":{"x":{"datum":496.8},"text":{"field":"t"}}},
{"data":{"values":[{"row":"MinWert","t":"0.3"},{"row":"MaxWert","t":"S-SO 13.3"},{"row":"Durchschnitt","t":"2.3"}]},"mark":{"type":"text","align":"right","baseline":"middle","color":"black","fontSize":12},"encoding":{"x":{"datum":614.4},"text":{"field":"t"}}},
{"data":{"values":[{"row":"Sensor","t":"Windgeschw km/h"},{"row":"Jetzt","t":"0.1"}]},"mark":{"type":"text","align":"right","baseline":"middle","fontWeight":"bold","color":"black","fontSize":12},"encoding":{"x":{"datum":614.4},"text":{"field":"t"}}},
{"data":{"values":[{"row":"Sensor","t":"Windböen"}]},"mark":{"type":"text","align":"left","baseline":"middle","fontWeight":"bold","color":"black","fontSize":12},"encoding":{"x":{"datum":631.2},"text":{"field":"t"}}},
{"data":{"values":[{"row":"MinWert","t":"Ø 10 min."}]},"mark":{"type":"text","align":"left","baseline":"middle","color":"black","fontSize":12},"encoding":{"x":{"datum":631.2},"text":{"field":"t"}}},
{"data":{"values":[{"row":"MaxWert","t":"13:52"},{"row":"Jetzt","t":"1 Bft S-SW"}]},"mark":{"type":"text","align":"left","baseline":"middle","color":"black","fontSize":12},"encoding":{"x":{"datum":638.4},"text":{"field":"t"}}},
{"data":{"values":[{"row":"MinWert","t":"2.2"},{"row":"MaxWert","t":"W-SW 22.5"},{"row":"Durchschnitt","t":"4.6"}]},"mark":{"type":"text","align":"right","baseline":"middle","color":"black","fontSize":12},"encoding":{"x":{"datum":756},"text":{"field":"t"}}},
{"data":{"values":[{"row":"Sensor","t":"km/h"},{"row":"Jetzt","t":"1.6"}]},"mark":{"type":"text","align":"right","baseline":"middle","fontWeight":"bold","color":"black","fontSize":12},"encoding":{"x":{"datum":756},"text":{"field":"t"}}},
{"data":{"values":[{"row":"Sensor","t":"Richtung"}]},"mark":{"type":"text","align":"left","baseline":"middle","fontWeight":"bold","color":"black","fontSize":12},"encoding":{"x":{"datum":774},"text":{"field":"t"}}},
{"data":{"values":[{"row":"MinWert","t":"20:08"},{"row":"MaxWert","t":"09:15"},{"row":"Jetzt","t":"200 °"}]},"mark":{"type":"text","align":"left","baseline":"middle","color":"black","fontSize":12},"encoding":{"x":{"datum":780},"text":{"field":"t"}}},
{"data":{"values":[{"row":"MinWert","t":"N"},{"row":"MaxWert","t":"N"},{"row":"Durchschnitt","t":"SW"}]},"mark":{"type":"text","align":"right","baseline":"middle","color":"black","fontSize":12},"encoding":{"x":{"datum":897.6},"text":{"field":"t"}}},
{"data":{"values":[{"row":"Jetzt","t":"S-SW"}]},"mark":{"type":"text","align":"right","baseline":"middle","fontWeight":"bold","color":"black","fontSize":12},"encoding":{"x":{"datum":897.6},"text":{"field":"t"}}}
]}
]
}
